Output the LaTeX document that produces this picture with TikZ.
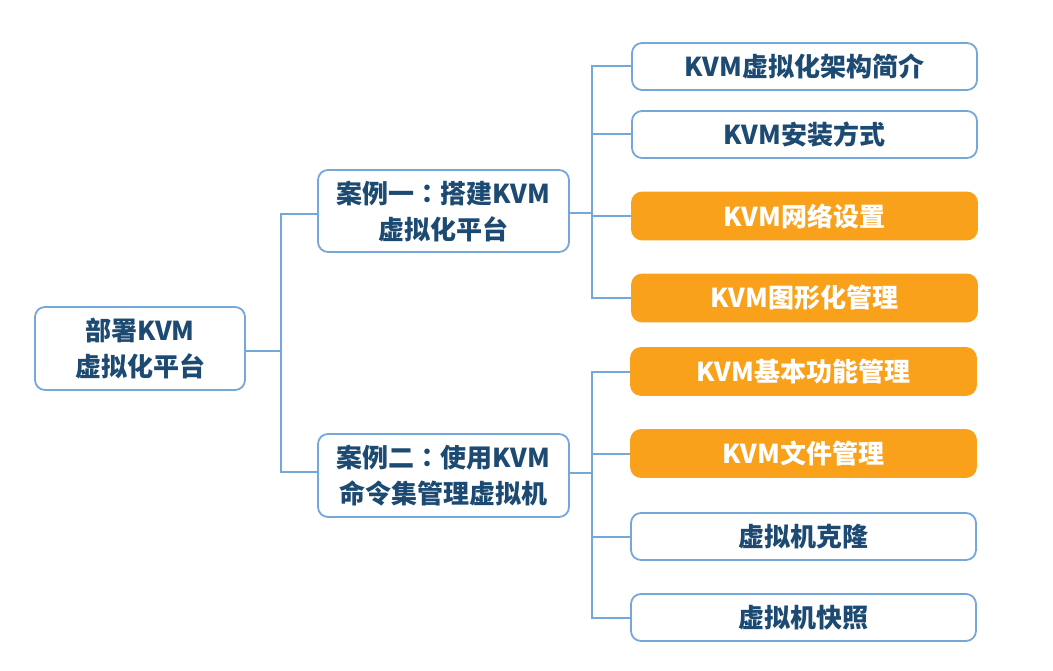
\documentclass[tikz,border=0pt]{standalone}
\usepackage{fontspec}
\newfontfamily\cjk{Noto Sans CJK SC}
\newfontfamily\cjktc{Noto Sans CJK TC}
\newcommand{\midcolon}{{\cjktc\bfseries ：}}
\definecolor{lineblue}{HTML}{74A7DA}
\definecolor{textblue}{HTML}{1D4A72}
\definecolor{orangefill}{HTML}{F9A11B}
\tikzset{
  box/.style={draw=lineblue, line width=1.8pt, rounded corners=10pt, fill=white,
    text=textblue, font=\cjk\bfseries\fontsize{26}{36}\selectfont, align=center,
    inner sep=0pt},
  leaf/.style={box, minimum width=345pt, minimum height=47pt},
  hot/.style={leaf, draw=orangefill, fill=orangefill, text=white},
  conn/.style={draw=lineblue, line width=2pt},
}
\begin{document}
\begin{tikzpicture}[x=1pt,y=-1pt]
\useasboundingbox (0,0) rectangle (1053,671);
\node[box, minimum width=210pt, minimum height=83pt] (root) at (140,348.5) {部署KVM\\虚拟化平台};
\node[box, minimum width=251pt, minimum height=82pt] (c1) at (443.5,211) {案例一\midcolon 搭建KVM\\虚拟化平台};
\node[box, minimum width=251pt, minimum height=83pt] (c2) at (443.5,475.5) {案例二\midcolon 使用KVM\\命令集管理虚拟机};
\node[leaf] (l1) at (804.5,66.5) {KVM虚拟化架构简介};
\node[leaf] (l2) at (804.5,134.5) {KVM安装方式};
\node[hot]  (l3) at (804.5,216) {KVM网络设置};
\node[hot]  (l4) at (804.5,298) {KVM图形化管理};
\node[hot]  (l5) at (803.5,371.5) {KVM基本功能管理};
\node[hot]  (l6) at (803.5,453.5) {KVM文件管理};
\node[leaf] (l7) at (803.5,536.5) {虚拟机克隆};
\node[leaf] (l8) at (803.5,617.5) {虚拟机快照};
\coordinate (j0) at (281,351);
\coordinate (j1) at (592,213);
\coordinate (j2) at (592,473);
\draw[conn] (root.east |- j0) -- (j0);
\draw[conn] (c1.west |- 0,214) -| (j0) |- (c2.west |- 0,472);
\draw[conn] (c1.east |- j1) -- (j1);
\draw[conn] (c2.east |- j2) -- (j2);
\draw[conn] (l1.west) -| (j1);
\draw[conn] (l2.west) -| (j1);
\draw[conn] (l3.west) -| (j1);
\draw[conn] (l4.west) -| (j1);
\draw[conn] (l5.west) -| (j2);
\draw[conn] (l6.west) -| (j2);
\draw[conn] (l7.west) -| (j2);
\draw[conn] (l8.west) -| (j2);
\end{tikzpicture}
\end{document}
